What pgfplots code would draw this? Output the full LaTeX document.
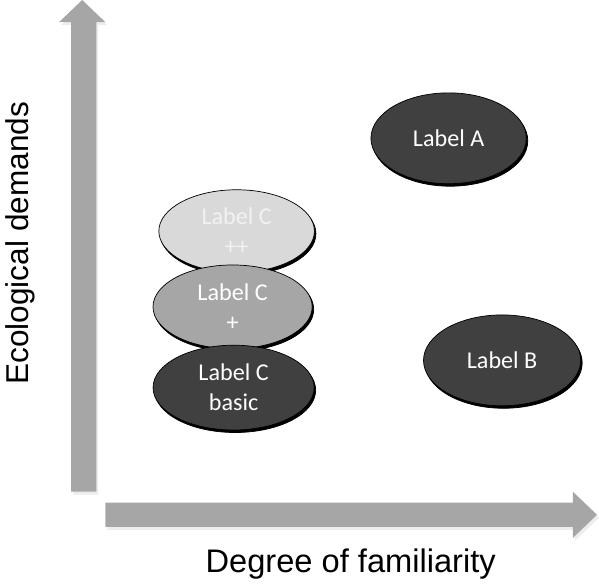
\documentclass[border=0pt]{standalone}
\usepackage{pgfplots}
\pgfplotsset{compat=1.18}
\usepackage{fontspec}
\setmainfont{Liberation Sans}
\newfontfamily\calib{Carlito}
\definecolor{arrowgray}{HTML}{A6A6A6}
\definecolor{darkell}{HTML}{404040}
\definecolor{midell}{HTML}{A6A6A6}
\definecolor{lightell}{HTML}{D9D9D9}
\begin{document}
\begin{tikzpicture}
\begin{axis}[
  scale only axis, width=11.98cm, height=11.66cm,
  xmin=0, xmax=599, ymin=0, ymax=583, y dir=reverse,
  hide axis, clip=false,
  every node near coord/.append style={anchor=center, align=center, font=\calib\fontsize{13.6}{17}\selectfont, text=white},
  shadow/.style={only marks, mark=*, mark options={fill=black, draw=none, opacity=0.10}},
]
% arrow shadows
\addplot[fill=black, opacity=0.07, draw=none] coordinates {
  (78,495) (103,495) (103,30) (112,30) (89,7) (66,30) (78,30)} --cycle;
\addplot[fill=black, opacity=0.07, draw=none] coordinates {
  (112,506) (575,506) (575,495) (599,518) (575,541) (575,530) (112,530)} --cycle;
% arrows (polygons)
\addplot[fill=arrowgray, draw=none] coordinates {
  (76,492) (101,492) (101,27) (110,27) (87,5) (64,27) (76,27)} --cycle;
\addplot[fill=arrowgray, draw=none] coordinates {
  (110,503) (573,503) (573,492) (597,515) (573,538) (573,527) (110,527)} --cycle;
% ellipses (C stack drawn in order ++, +, basic)
\addplot[shadow, mark size=0.82cm, mark options={xscale=1.88}] coordinates {(241.5,236.5)};
\addplot[only marks, mark=*, mark size=0.82cm, mark options={xscale=1.88, fill=lightell, draw=none},
  point meta=explicit symbolic, nodes near coords,
  every node near coord/.append style={text=white!95!black}]
  coordinates {(240,234) [{Label C\\++}]};
\addplot[shadow, mark size=0.83cm, mark options={xscale=1.90}] coordinates {(237.5,311.5)};
\addplot[only marks, mark=*, mark size=0.83cm, mark options={xscale=1.90, fill=midell, draw=none},
  point meta=explicit symbolic, nodes near coords]
  coordinates {(236,309) [{Label C\\+}]};
\addplot[shadow, mark size=0.84cm, mark options={xscale=1.90}] coordinates {(238.5,391.5)};
\addplot[only marks, mark=*, mark size=0.84cm, mark options={xscale=1.90, fill=darkell, draw=none},
  point meta=explicit symbolic, nodes near coords]
  coordinates {(237,389) [{Label C\\basic}]};
\addplot[shadow, mark size=0.9cm, mark options={xscale=1.71}] coordinates {(451.5,144.5)};
\addplot[only marks, mark=*, mark size=0.9cm, mark options={xscale=1.71, fill=darkell, draw=none},
  point meta=explicit symbolic, nodes near coords]
  coordinates {(450,142) [Label A]};
\addplot[shadow, mark size=0.9cm, mark options={xscale=1.73}] coordinates {(504.5,364.5)};
\addplot[only marks, mark=*, mark size=0.9cm, mark options={xscale=1.73, fill=darkell, draw=none},
  point meta=explicit symbolic, nodes near coords]
  coordinates {(503,362) [Label B]};
% axis titles
\node[rotate=90, font=\fontsize{17.8}{21}\selectfont] at (axis cs:26,246) {Ecological demands};
\node[font=\fontsize{18.4}{22}\selectfont] at (axis cs:353,564) {Degree of familiarity};
\end{axis}
\end{tikzpicture}
\end{document}
